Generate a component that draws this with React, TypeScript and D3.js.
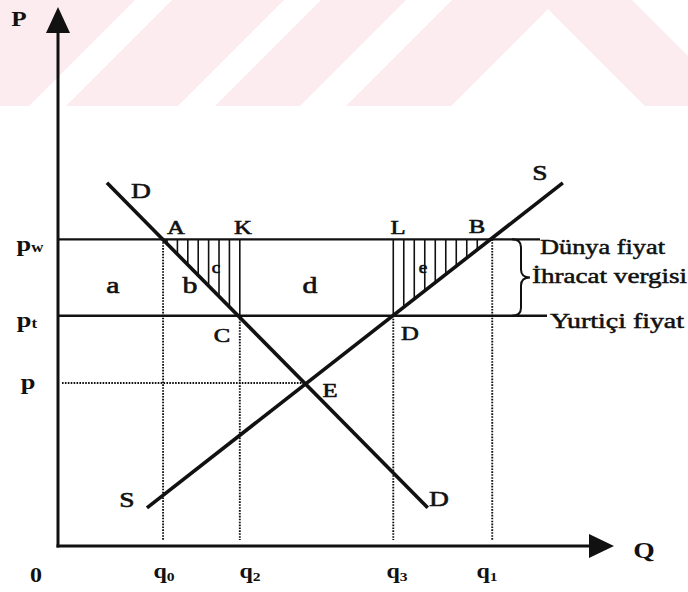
import React from 'react';
import * as d3 from 'd3';

// ---- data (model units) ----
const quantityNames = ['q0', 'q2', 'q3', 'q1'];
const quantityValues = [18.9, 32.7, 60.3, 78.1];
const priceNames = ['pw', 'pt', 'p'];
const priceValues = [57, 42.8, 30.3];
const demandQ = [8.8, 66.5];
const demandP = [67.5, 7.1];
const supplyQ = [16, 90.8];
const supplyP = [7.1, 67.5];
const equilibriumQ = [44.5];
const areaNames = ['a', 'b', 'c', 'd', 'e'];
const textWorld = 'Dünya fiyat';
const textTax = 'İhracat vergisi';
const textDomestic = 'Yurtiçi fiyat';

const W = 688;
const H = 592;
const FONT = 'Liberation Serif';

const x = d3.scaleLinear().domain([0, 100]).range([58, 614]);
const y = d3.scaleLinear().domain([0, 100]).range([546, 8]);

const lineFn = (qs: number[], ps: number[]) => (q: number) =>
  ps[0] + ((ps[1] - ps[0]) * (q - qs[0])) / (qs[1] - qs[0]);
const demand = lineFn(demandQ, demandP);
const supply = lineFn(supplyQ, supplyP);

function Lbl({ x: px, y: py, children, size = 20, bold = true, sx = 1.2, anchor = 'middle' }: any) {
  return (
    <text
      transform={`translate(${px},${py}) scale(${sx},1)`}
      textAnchor={anchor}
      fontSize={size}
      fontWeight={bold ? 'bold' : 'normal'}
      fontFamily={FONT}
      fill="#111"
      stroke={bold ? 'none' : '#111'}
      strokeWidth={bold ? 0 : 0.6}
    >
      {children}
    </text>
  );
}

export default function App() {
  const [q0, q2, q3, q1] = quantityValues;
  const [pw, pt, pe] = priceValues;
  const qe = equilibriumQ[0];
  const line = d3.line<[number, number]>().x((d) => x(d[0])).y((d) => y(d[1]));

  // hatching
  const hatch1: number[] = [];
  for (let px = x(q2); px > x(q0) + 3; px -= 10.4) hatch1.push(px);
  const hatch2: number[] = [];
  for (let px = x(q3); px < x(q1) - 3; px += 10.5) hatch2.push(px);

  const dotted = { stroke: '#111', strokeWidth: 1.9, strokeDasharray: '1.6,1.3', fill: 'none' };
  const axisBottom = 540;
  const qLabelX = [164, 250, 397, 487];
  const midBrace = (y(pw) + y(pt)) / 2;

  return (
    <svg width={W} height={H} style={{ position: 'absolute', left: 0, top: 0, display: 'block', background: '#fff' }}>
      {/* watermark */}
      <rect x={0} y={0} width={W} height={106} fill="#fcebef" />
      <g fill="#fff">
        <polygon points="29,106 66,106 172,0 135,0" />
        <polygon points="178,106 215,106 321,0 284,0" />
        <polygon points="300,106 346,106 452,0 406,0" />
        <polygon points="451,106 548,9 645,106" />
        <polygon points="632,0 688,0 688,56" />
      </g>

      {/* hatching */}
      <g stroke="#111" strokeWidth={1.6}>
        {hatch1.map((px, i) => (
          <line key={'h1' + i} x1={px} x2={px} y1={y(pw)} y2={y(demand(x.invert(px)))} />
        ))}
        {hatch2.map((px, i) => (
          <line key={'h2' + i} x1={px} x2={px} y1={y(pw)} y2={y(supply(x.invert(px)))} />
        ))}
      </g>

      {/* dotted guides */}
      <line x1={x(q0)} x2={x(q0)} y1={y(pw)} y2={axisBottom} style={dotted} />
      <line x1={x(q2)} x2={x(q2)} y1={y(pt)} y2={axisBottom} style={dotted} />
      <line x1={x(q3)} x2={x(q3)} y1={y(pt)} y2={axisBottom} style={dotted} />
      <line x1={x(q1)} x2={x(q1)} y1={y(pw)} y2={axisBottom} style={dotted} />
      <line x1={62} x2={x(qe)} y1={y(pe)} y2={y(pe)} style={dotted} />

      {/* price lines */}
      <line x1={x(0)} x2={540} y1={y(pw)} y2={y(pw)} stroke="#111" strokeWidth={2.3} />
      <line x1={x(0)} x2={547} y1={y(pt)} y2={y(pt)} stroke="#111" strokeWidth={2.3} />

      {/* demand & supply */}
      <path d={line([[demandQ[0], demandP[0]], [demandQ[1], demandP[1]]]) || ''} stroke="#111" strokeWidth={3.6} fill="none" />
      <path d={line([[supplyQ[0], supplyP[0]], [supplyQ[1], supplyP[1]]]) || ''} stroke="#111" strokeWidth={3.6} fill="none" />

      {/* axes */}
      <line x1={x(0)} x2={x(0)} y1={y(0) + 1.5} y2={30} stroke="#111" strokeWidth={3} />
      <polygon points={`${x(0)},7 ${x(0) - 12},33 ${x(0) + 12},33`} fill="#111" />
      <line x1={x(0) - 1.5} x2={592} y1={y(0)} y2={y(0)} stroke="#111" strokeWidth={3} />
      <polygon points={`614,${y(0)} 589,${y(0) - 12} 589,${y(0) + 12}`} fill="#111" />

      {/* brace */}
      <path
        d={`M 512 ${y(pw)} Q 521 ${y(pw)} 521 ${y(pw) + 8} L 521 ${midBrace - 8} Q 521 ${midBrace} 530 ${midBrace} Q 521 ${midBrace} 521 ${midBrace + 8} L 521 ${y(pt) - 8} Q 521 ${y(pt)} 512 ${y(pt)}`}
        stroke="#111"
        strokeWidth={2}
        fill="none"
      />

      {/* axis labels */}
      <Lbl x={19} y={26} size={21}>P</Lbl>
      <Lbl x={644} y={558} size={23}>Q</Lbl>
      <Lbl x={36} y={582} size={20}>0</Lbl>
      {quantityNames.map((n, i) => (
        <text key={n} transform={`translate(${qLabelX[i]},578) scale(1.2,1)`} textAnchor="middle" fontFamily={FONT} fontWeight="bold" fontSize={20} fill="#111">
          {n[0]}
          <tspan fontSize={13} dy={3}>{n.slice(1)}</tspan>
        </text>
      ))}
      {priceNames.map((n, i) => (
        <text key={n} transform={`translate(${[30, 27, 28][i]},${y(priceValues[i]) + [12, 11, 6][i]}) scale(1.2,1)`} textAnchor="middle" fontFamily={FONT} fontWeight="bold" fontSize={22} fill="#111">
          {n[0]}
          {n.length > 1 && <tspan fontSize={14} dy={1}>{n.slice(1)}</tspan>}
        </text>
      ))}

      {/* curve labels */}
      <Lbl x={141} y={198} size={22} bold={false} sx={1.25}>D</Lbl>
      <Lbl x={540} y={180} size={22} bold={false} sx={1.25}>S</Lbl>
      <Lbl x={127} y={507} size={22} bold={false} sx={1.25}>S</Lbl>
      <Lbl x={439} y={506} size={22} bold={false} sx={1.25}>D</Lbl>

      {/* point labels */}
      <Lbl x={176} y={234} size={19} bold={false} sx={1.3}>A</Lbl>
      <Lbl x={243} y={234} size={19} bold={false} sx={1.3}>K</Lbl>
      <Lbl x={398} y={234} size={19} bold={false} sx={1.3}>L</Lbl>
      <Lbl x={477} y={233} size={19} bold={false} sx={1.3}>B</Lbl>
      <Lbl x={222} y={342} size={19} bold={false} sx={1.3}>C</Lbl>
      <Lbl x={410} y={340} size={19} bold={false} sx={1.3}>D</Lbl>
      <Lbl x={330} y={397} size={19} bold={false} sx={1.3}>E</Lbl>

      {/* area labels */}
      <Lbl x={113} y={293} size={23} bold={false} sx={1.3}>{areaNames[0]}</Lbl>
      <Lbl x={190} y={293} size={23} bold={false} sx={1.3}>{areaNames[1]}</Lbl>
      <Lbl x={216} y={273} size={16} bold={false}>{areaNames[2]}</Lbl>
      <Lbl x={310} y={293} size={23} bold={false} sx={1.3}>{areaNames[3]}</Lbl>
      <Lbl x={423} y={273} size={16} bold={false}>{areaNames[4]}</Lbl>

      {/* annotations */}
      <g fontFamily={FONT} fontSize={21} fill="#111" stroke="#111" strokeWidth={0.5}>
        <text x={540} y={254} textLength={125} lengthAdjust="spacingAndGlyphs">{textWorld}</text>
        <text x={532} y={283} textLength={155} lengthAdjust="spacingAndGlyphs">{textTax}</text>
        <text x={550} y={328} textLength={134} lengthAdjust="spacingAndGlyphs">{textDomestic}</text>
      </g>
    </svg>
  );
}
